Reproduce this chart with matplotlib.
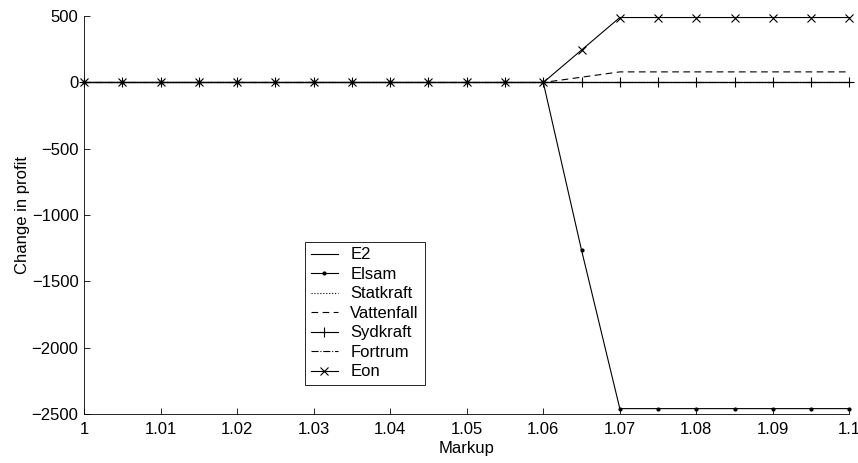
import matplotlib
matplotlib.use("Agg")
import matplotlib.pyplot as plt
from matplotlib.ticker import FormatStrFormatter
import numpy as np

plt.rcParams["font.family"] = ["Liberation Sans", "DejaVu Sans"]

markup = [1.000, 1.005, 1.010, 1.015, 1.020, 1.025, 1.030, 1.035, 1.040, 1.045,
          1.050, 1.055, 1.060, 1.065, 1.070, 1.075, 1.080, 1.085, 1.090, 1.095, 1.100]
zeros = [0] * 21
e2 = zeros
elsam = [0] * 13 + [-1265] + [-2460] * 7
statkraft = zeros
vattenfall = [0] * 13 + [40] + [80] * 7
sydkraft = zeros
fortrum = zeros
eon = [0] * 13 + [245] + [490] * 7

FS = 12

fig = plt.figure(figsize=(8.58, 4.63), dpi=100)
ax = fig.add_axes([0.098, 0.106, 0.892, 0.859])

kw = dict(color="black", lw=0.8, clip_on=False)
ax.plot(markup, e2, "-", label="E2", **kw)
ax.plot(markup, elsam, "-", marker=".", ms=4, label="Elsam", **kw)
ax.plot(markup, statkraft, ":", label="Statkraft", **kw)
ax.plot(markup, vattenfall, "--", dashes=(6, 4), label="Vattenfall", **kw)
ax.plot(markup, sydkraft, "-", marker="+", ms=7, mew=0.8, label="Sydkraft", **kw)
ax.plot(markup, fortrum, "-.", label="Fortrum", **kw)
ax.plot(markup, eon, "-", marker="x", ms=6, mew=0.8, label="Eon", **kw)

ax.set_xlim(1, 1.1)
ax.set_ylim(-2500, 500)
ax.set_xticks(np.round(np.arange(1, 1.1001, 0.01), 2))
ax.set_yticks(range(-2500, 501, 500))
ax.xaxis.set_major_formatter(FormatStrFormatter("%g"))
ax.tick_params(direction="in", labelsize=FS, length=4, width=0.6, pad=4)
ax.tick_params(axis="x", pad=6)
for s in ("top", "right"):
    ax.spines[s].set_visible(False)
for s in ("left", "bottom"):
    ax.spines[s].set_linewidth(0.6)
ax.set_xlabel("Markup", fontsize=FS, labelpad=3)
ax.set_ylabel("Change in profit", fontsize=FS, labelpad=1)

leg = ax.legend(loc="lower left", bbox_to_anchor=(0.289, 0.072), fontsize=FS,
                frameon=True, fancybox=False, edgecolor="black", framealpha=1,
                borderpad=0.35, labelspacing=0.27, handlelength=1.6,
                handletextpad=0.75, borderaxespad=0)
leg.get_frame().set_linewidth(0.6)

fig.savefig("out.png", dpi=100)
